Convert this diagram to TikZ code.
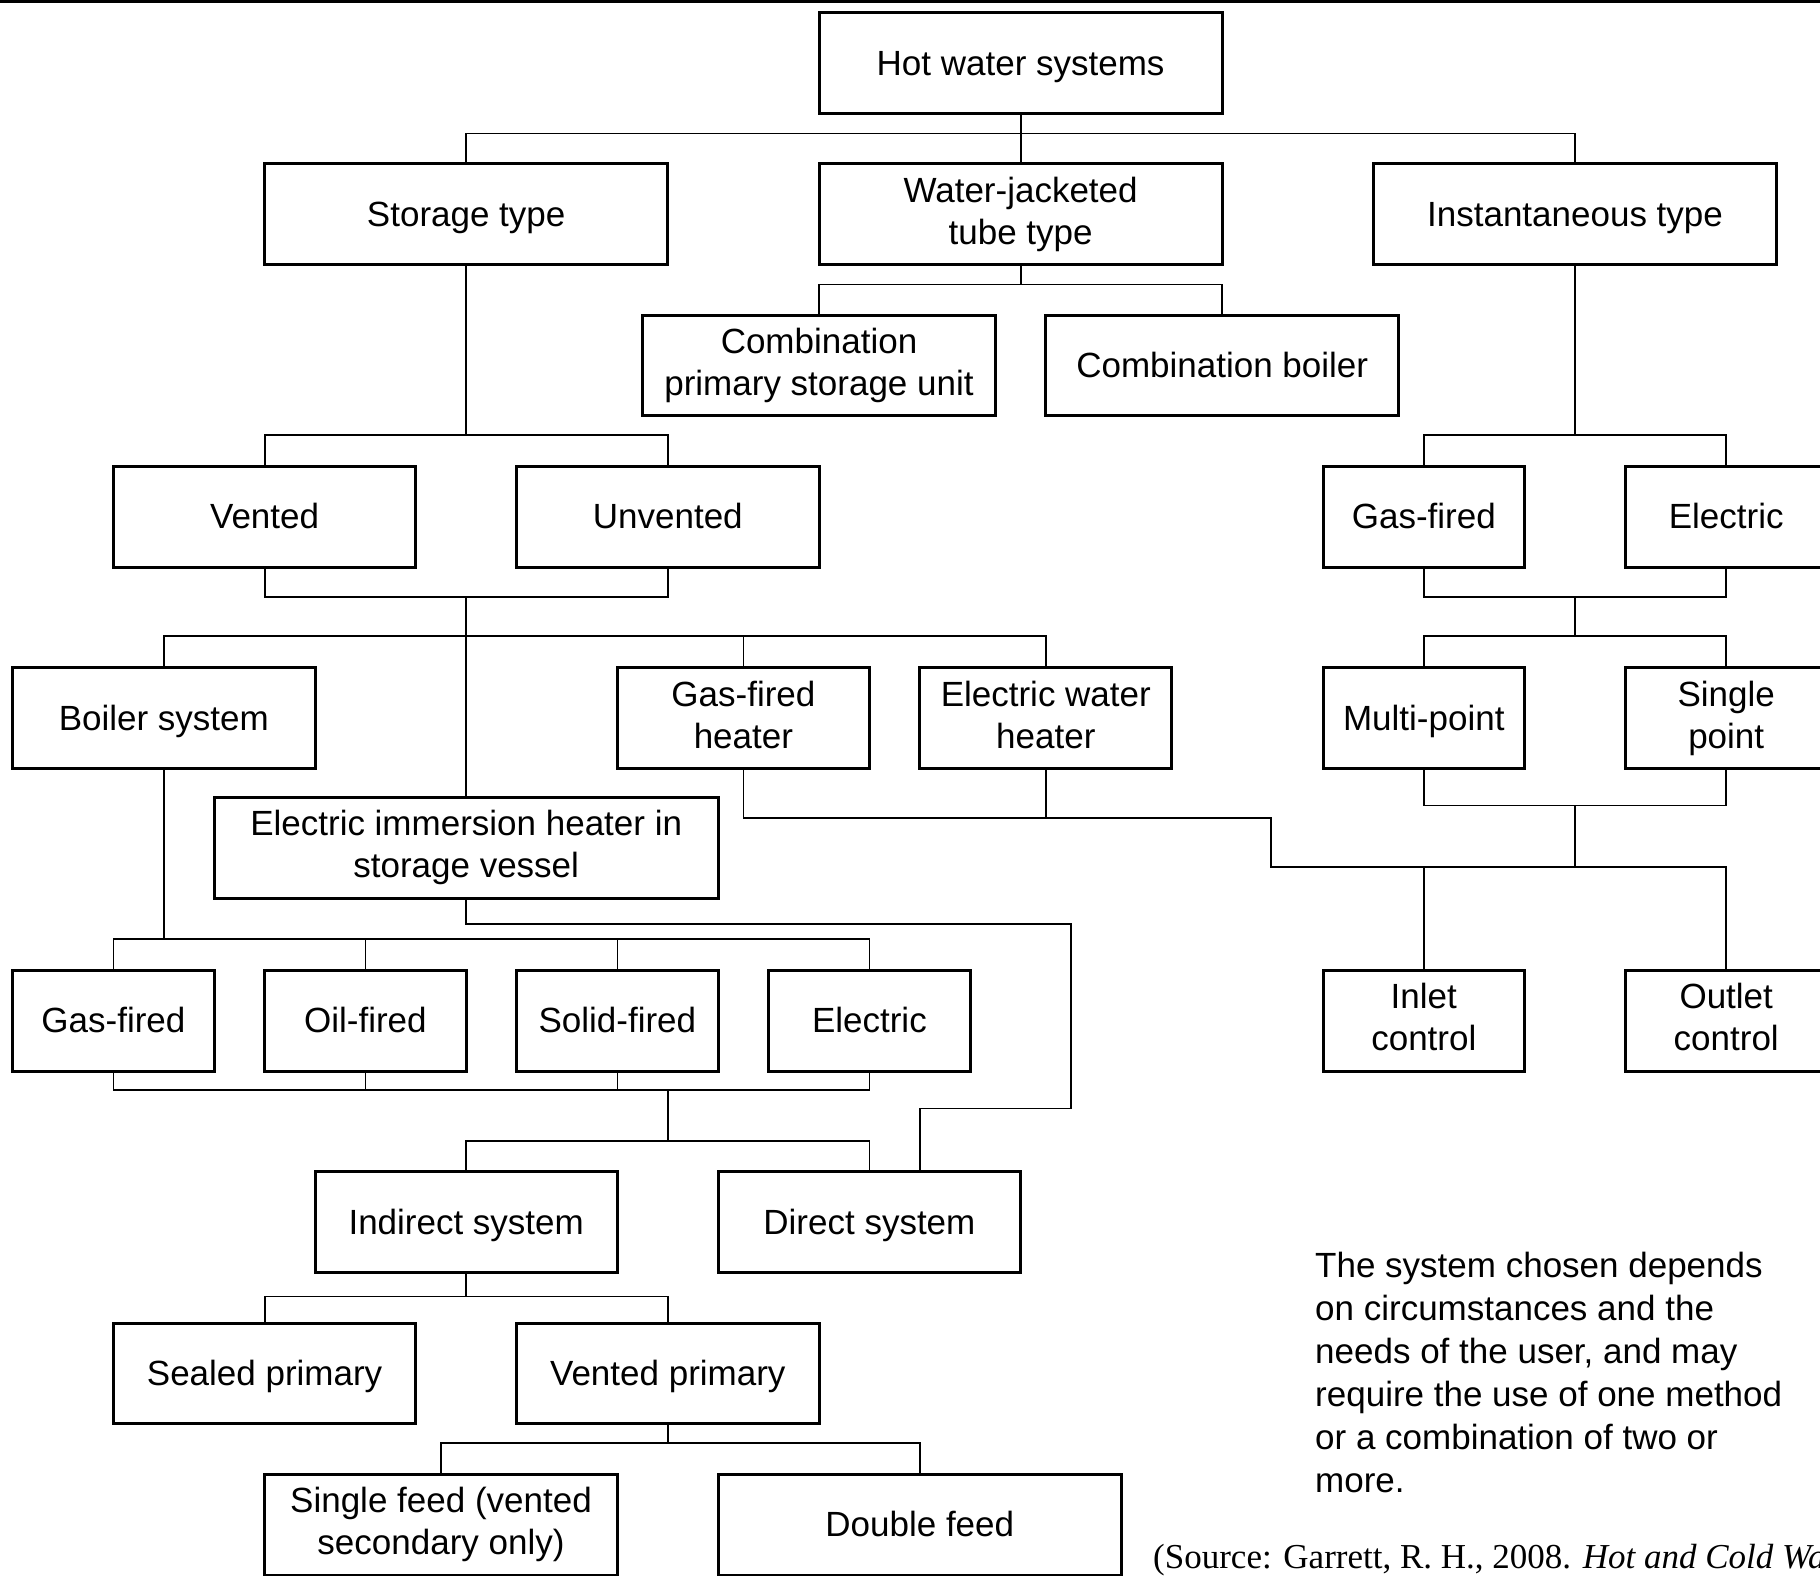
\documentclass[tikz,border=0pt]{standalone}
\usepackage{fontspec}
\setmainfont{Liberation Sans}
\newfontfamily\srcfont{Liberation Serif}
\newcommand{\bst}{\rule[-7.4pt]{0pt}{39.1pt}}
\newcommand{\bstt}{\rule[-7.4pt]{0pt}{43.7pt}}
\tikzset{
  box/.style={draw, line width=3pt, inner sep=0pt, minimum height=100.8pt, align=center,
    font=\fontsize{35}{42}\selectfont, execute at begin node=\bst, execute at end node=\bst},
  box2/.style={box, execute at begin node=\bstt},
  conn/.style={line width=1.8pt, line join=miter}
}
\begin{document}
\begin{tikzpicture}[x=1pt,y=-1pt]
\useasboundingbox (0,0) rectangle (1820,1575);
\clip (0,0) rectangle (1820,1575);
\fill[white] (0,0) rectangle (1820,1575);
\fill[black] (0,0) rectangle (1820,3);

% nodes
\node[box, minimum width=403.2pt] (hws) at (1020.6,63) {Hot water systems};
\node[box, minimum width=403.2pt] (storage) at (466.2,214.2) {Storage type};
\node[box2, minimum width=403.2pt] (wj) at (1020.6,214.2) {Water-jacketed\\tube type};
\node[box, minimum width=403.2pt] (inst) at (1575,214.2) {Instantaneous type};
\node[box2, minimum width=352.8pt] (cpsu) at (819,365.4) {Combination\\primary storage unit};
\node[box, minimum width=352.8pt] (cb) at (1222.2,365.4) {Combination boiler};
\node[box, minimum width=302.4pt] (vented) at (264.6,516.6) {Vented};
\node[box, minimum width=302.4pt] (unvented) at (667.8,516.6) {Unvented};
\node[box, minimum width=201.6pt] (gasR) at (1423.8,516.6) {Gas-fired};
\node[box, minimum width=201.6pt] (elecR) at (1726.2,516.6) {Electric};
\node[box, minimum width=302.4pt] (boiler) at (163.8,718.2) {Boiler system};
\node[box2, minimum width=252pt] (gfh) at (743.4,718.2) {Gas-fired\\heater};
\node[box2, minimum width=252pt] (ewh) at (1045.8,718.2) {Electric water\\heater};
\node[box, minimum width=201.6pt] (multi) at (1423.8,718.2) {Multi-point};
\node[box2, minimum width=201.6pt] (single) at (1726.2,718.2) {Single\\point};
\node[box2, minimum width=504pt] (immersion) at (466.2,848) {Electric immersion heater in\\storage vessel};
\node[box, minimum width=201.6pt] (gas) at (113.4,1020.6) {Gas-fired};
\node[box, minimum width=201.6pt] (oil) at (365.4,1020.6) {Oil-fired};
\node[box, minimum width=201.6pt] (solid) at (617.4,1020.6) {Solid-fired};
\node[box, minimum width=201.6pt] (elec) at (869.4,1020.6) {Electric};
\node[box2, minimum width=201.6pt] (inlet) at (1423.8,1020.6) {Inlet\\control};
\node[box2, minimum width=201.6pt] (outlet) at (1726.2,1020.6) {Outlet\\control};
\node[box, minimum width=302.4pt] (indirect) at (466.2,1222.2) {Indirect system};
\node[box, minimum width=302.4pt] (direct) at (869.4,1222.2) {Direct system};
\node[box, minimum width=302.4pt] (sealed) at (264.6,1373.4) {Sealed primary};
\node[box, minimum width=302.4pt] (vp) at (667.8,1373.4) {Vented primary};
\node[box2, minimum width=352.8pt] (sf) at (441,1524.6) {Single feed (vented\\secondary only)};
\node[box, minimum width=403.2pt] (df) at (919.8,1524.6) {Double feed};

\node[anchor=north west, inner sep=0pt, align=left, font=\fontsize{35}{43}\selectfont,
  execute at begin node=\bst] (note) at (1315,1252.3)
  {The system chosen depends\\on circumstances and the\\needs of the user, and may\\require the use of one method\\or a combination of two or\\more.};
\node[anchor=base west, inner sep=0pt, font=\srcfont\fontsize{35}{42}\selectfont] (src) at (1153,1568)
  {(Source: Garrett, R. H., 2008. \textit{Hot and Cold Water Supply}};

% junction coordinates
\coordinate (jr1) at (1575,596.6);
\coordinate (jr2) at (1575,636);
\coordinate (jr3) at (1575,805.5);
\coordinate (jr4) at (1575,867);
\coordinate (jf1) at (667.8,1090);
\coordinate (jf2) at (667.8,1141);
\coordinate (ja) at (1271,818.3);
\coordinate (jb) at (1071,924);
\coordinate (jc) at (919.8,1108.5);

% connectors
\draw[conn] (hws.south) -- (wj.north);
\draw[conn] (storage.north) |- (inst.north |- 0,133.5) -- (inst.north);
\draw[conn] (wj.south) -- (wj.south |- 0,284.4);
\draw[conn] (cpsu.north) |- (cb.north |- 0,284.4) -- (cb.north);
\draw[conn] (storage.south) -- (storage.south |- 0,435.3);
\draw[conn] (vented.north) |- (unvented.north |- 0,435.3) -- (unvented.north);
\draw[conn] (vented.south) |- (unvented.south |- 0,596.6) -- (unvented.south);
\draw[conn] (immersion.north |- 0,596.6) -- (immersion.north);
\draw[conn] (boiler.north) |- (ewh.north |- 0,636) -- (ewh.north);
\draw[conn] (gfh.north) -- (gfh.north |- 0,636);
\draw[conn] (gfh.south) |- (ja) |- (outlet.north |- 0,867) -- (outlet.north);
\draw[conn] (ewh.south) -- (ewh.south |- 0,818.3);
\draw[conn] (inlet.north) -- (inlet.north |- 0,867);
\draw[conn] (inst.south) -- (inst.south |- 0,435.3);
\draw[conn] (gasR.north) |- (elecR.north |- 0,435.3) -- (elecR.north);
\draw[conn] (gasR.south) |- (elecR.south |- 0,596.6) -- (elecR.south);
\draw[conn] (jr1) -- (jr2);
\draw[conn] (multi.north) |- (single.north |- 0,636) -- (single.north);
\draw[conn] (multi.south) |- (single.south |- 0,805.5) -- (single.south);
\draw[conn] (jr3) -- (jr4);
\draw[conn] (boiler.south) -- (boiler.south |- 0,939);
\draw[conn] (gas.north) |- (elec.north |- 0,939) -- (elec.north);
\draw[conn] (oil.north) -- (oil.north |- 0,939);
\draw[conn] (solid.north) -- (solid.north |- 0,939);
\draw[conn] (gas.south) |- (elec.south |- 0,1090) -- (elec.south);
\draw[conn] (oil.south) -- (oil.south |- 0,1090);
\draw[conn] (solid.south) -- (solid.south |- 0,1090);
\draw[conn] (jf1) -- (jf2);
\draw[conn] (indirect.north) |- (direct.north |- 0,1141) -- (direct.north);
\draw[conn] (immersion.south) |- (jb) |- (jc) -- (direct.north -| jc);
\draw[conn] (indirect.south) -- (indirect.south |- 0,1296.5);
\draw[conn] (sealed.north) |- (vp.north |- 0,1296.5) -- (vp.north);
\draw[conn] (vp.south) -- (vp.south |- 0,1442.8);
\draw[conn] (sf.north) |- (df.north |- 0,1442.8) -- (df.north);
\end{tikzpicture}
\end{document}
